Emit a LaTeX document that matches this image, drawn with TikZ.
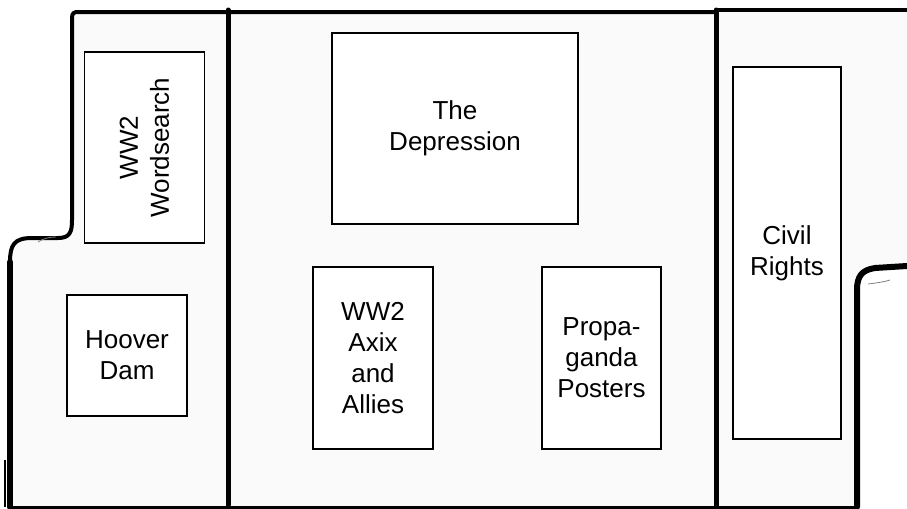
\documentclass[tikz,border=0pt]{standalone}
\usepackage{fontspec}
\setmainfont{Liberation Sans}
\usetikzlibrary{positioning}

\tikzset{
  wall/.style={line width=2pt, line join=round, line cap=round},
  station/.style={draw, line width=0.6pt, fill=white, align=center, inner sep=0pt,
    font=\fontsize{13}{15.5}\selectfont},
}

\begin{document}
\begin{tikzpicture}[x=0.5pt, y=-0.5pt]
  \useasboundingbox (0,0) rectangle (907,509);

  % floor of the room
  \fill[black!2] (10,507) -- (10,262) .. controls (10,245) and (14,238) .. (32,238)
    -- (58,238) .. controls (70,238) and (72,232) .. (72,220) -- (72,12)
    -- (716,12) -- (716,10) -- (907,10) -- (907,266) -- (875,268)
    .. controls (862,270) and (857,276) .. (857,290) -- (857,507) -- cycle;

  % walls
  \draw[wall, line width=3pt] (10,507) -- (10,262);
  \draw[wall] (10,262) .. controls (10,245) and (14,238) .. (32,238)
    -- (58,238) .. controls (70,238) and (72,232) .. (72,220) -- (72,18)
    .. controls (72,13) and (74,12) .. (78,12) -- (716,12);
  \draw[wall, line width=2.5pt] (228,10) -- (228,505);
  \draw[wall] (716,10) -- (907,10);
  \draw[wall, line width=2.5pt] (716,10) -- (716,507);
  \draw[wall, line width=3pt] (907,266) -- (875,268)
    .. controls (862,270) and (857,276) .. (857,290) -- (857,507);
  \draw[wall, line width=1.5pt] (10,507) -- (857,507);
  \draw[line width=0.6pt] (5,460) -- (5,507);
  \draw[gray, line width=0.4pt] (38,242) .. controls (44,238) and (50,237) .. (56,237);
  \draw[gray, line width=0.4pt] (868,284) .. controls (876,283) and (884,282) .. (890,280);

  % stations
  \node[station, rotate=90, minimum width=95.5pt, minimum height=60pt]
    (wordsearch) at (144.5,147.5) {WW2\\Wordsearch};
  \node[station, minimum width=60pt, minimum height=60.5pt]
    (hoover) at (127,355.5) {Hoover\\Dam};
  \node[station, minimum width=123pt, minimum height=95.5pt]
    (depression) at (455,128.5) {The\\Depression};
  \node[station, minimum width=60pt, minimum height=91pt]
    (axis) at (373,358) {WW2\\Axix\\and\\Allies};
  \node[station, minimum width=59.5pt, minimum height=91pt]
    (propaganda) at (601.5,358) {Propa-\\ganda\\Posters};
  \node[station, minimum width=54pt, minimum height=186pt]
    (civil) at (787,253) {Civil\\Rights};
\end{tikzpicture}
\end{document}
